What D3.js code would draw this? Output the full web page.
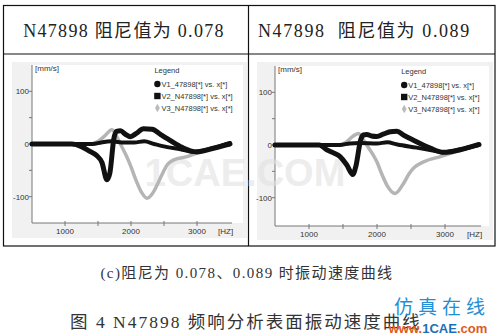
<!DOCTYPE html>
<html>
<head>
<meta charset="utf-8">
<script src="https://cdn.jsdelivr.net/npm/d3@7"></script>
<style>
  html, body { margin: 0; padding: 0; background: #fff; }
  svg { display: block; }
  .serif { font-family: "Liberation Serif", "DejaVu Serif", "Noto Sans CJK SC", serif; }
  .tick-label { font-family: "Liberation Sans", Arial, sans-serif; font-size: 8px; fill: #333; }
  .legend-text { font-family: "Liberation Sans", Arial, sans-serif; font-size: 7.5px; fill: #333; }
</style>
</head>
<body>
<svg id="chart" width="500" height="336"></svg>
<script>
// panel titles
const titles = ['N47898 阻尼值为 0.078', 'N47898  阻尼值为 0.089'];
const caption = '(c)阻尼为 0.078、0.089 时振动速度曲线';
const figTitle = '图 4 N47898 频响分析表面振动速度曲线';

const legendNames = ['V1_47898[*] vs. x[*]', 'V2_N47898[*] vs. x[*]', 'V3_N47898[*] vs. x[*]'];
const xTicks = [1000, 2000, 3000];
const xMinorTicks = [1000, 1500, 2000, 2500, 3000];
const yTicks = [100, 0, -100];
const yMinorTicks = [100, 50, 0, -50, -100];

// [Hz, mm/s], damping 0.078
const v1_078 = [[500,0],[1000,0],[1420,0],[1550,3],[1700,5],[1900,3],[2050,3],[2200,5],[2350,0],[2550,-6],[2750,-10],[2950,-15],[3100,-12],[3300,-6],[3500,2]];
const v2_078 = [[500,0],[1100,0],[1250,-5],[1350,-12],[1480,-22],[1560,-35],[1635,-68],[1680,-55],[1740,10],[1780,24],[1840,25],[1920,18],[1990,14],[2080,20],[2190,29],[2320,28],[2450,18],[2550,10],[2750,-5],[2900,-13],[3000,-15],[3250,-8],[3500,0]];
const v3_078 = [[500,0],[1400,0],[1500,5],[1600,15],[1710,27],[1780,15],[1840,0],[1920,-20],[1990,-40],[2080,-70],[2160,-92],[2243,-103],[2320,-95],[2395,-78],[2470,-58],[2547,-40],[2650,-30],[2850,-24],[3050,-15],[3250,-8],[3500,0]];

// damping 0.089
const v1_089 = [[500,0],[1450,0],[1600,3],[1750,4],[2000,3],[2150,5],[2300,1],[2580,-5],[2800,-10],[2980,-14],[3200,-9],[3500,0]];
const v2_089 = [[500,0],[1150,0],[1261,-9],[1360,-15],[1457,-22],[1556,-38],[1644,-56],[1690,-40],[1760,10],[1800,19],[1850,20],[1920,17],[1998,16],[2100,21],[2194,25],[2292,26],[2400,18],[2537,9],[2783,-6],[2979,-14],[3224,-9],[3500,1]];
const v3_089 = [[500,0],[1457,0],[1550,6],[1640,16],[1727,22],[1790,12],[1850,0],[1920,-14],[1998,-32],[2070,-55],[2145,-76],[2267,-92],[2390,-73],[2470,-55],[2537,-44],[2684,-32],[2930,-22],[3175,-12],[3500,0]];

const svg = d3.select('#chart');

// table frame
const frame = svg.append('g').attr('stroke', '#111').attr('stroke-width', 1.2).attr('fill', 'none');
frame.append('rect').attr('x', 3.5).attr('y', 5.5).attr('width', 491.5).attr('height', 240.5);
frame.append('line').attr('x1', 3.5).attr('x2', 495).attr('y1', 54).attr('y2', 54);
frame.append('line').attr('x1', 248.5).attr('x2', 248.5).attr('y1', 5.5).attr('y2', 246);

svg.append('text').attr('class', 'serif')
  .attr('x', 124).attr('y', 37).attr('text-anchor', 'middle')
  .attr('font-size', 18).attr('letter-spacing', 1.3).attr('fill', '#222').text(titles[0]);
svg.append('text').attr('class', 'serif')
  .attr('x', 258).attr('y', 37).attr('xml:space', 'preserve')
  .attr('font-size', 18).attr('letter-spacing', 1.6).attr('fill', '#222').text(titles[1]);

const panels = [
  { bg: [12, 62, 235, 176], x0: 32, x1: 230, y0: 223, y1: 65, base: 223, series: [v1_078, v2_078, v3_078] },
  { bg: [257, 62, 236, 178], x0: 275, x1: 479, y0: 224, y1: 66, base: 226, series: [v1_089, v2_089, v3_089] }
];

const styles = [
  { color: '#111', width: 4 },
  { color: '#111', width: 5 },
  { color: '#b5b5b5', width: 3.5 }
];

// faint watermark across the plots, behind the curves
const wm = svg.append('g');

panels.forEach(p => {
  const g = svg.append('g');
  g.append('rect').attr('x', p.bg[0]).attr('y', p.bg[1]).attr('width', p.bg[2]).attr('height', p.bg[3]).attr('fill', '#f1f1f1');
  g.append('rect').attr('x', p.x0).attr('y', p.y1).attr('width', p.bg[0] + p.bg[2] - 4 - p.x0).attr('height', p.base - p.y1).attr('fill', '#fff');

  const x = d3.scaleLinear().domain([500, 3500]).range([p.x0, p.x1]);
  const y = d3.scaleLinear().domain([-150, 150]).range([p.y0, p.y1]);

  // y axis
  g.append('line').attr('x1', p.x0).attr('x2', p.x0).attr('y1', p.y1).attr('y2', p.base).attr('stroke', '#777');
  g.selectAll('.yt').data(yMinorTicks).join('line')
    .attr('x1', p.x0 - 3).attr('x2', p.x0).attr('y1', d => y(d)).attr('y2', d => y(d)).attr('stroke', '#777');
  g.selectAll('.yl').data(yTicks).join('text').attr('class', 'tick-label')
    .attr('x', p.x0 - 3).attr('y', d => y(d) + 3).attr('text-anchor', 'end').text(d => d);
  g.append('text').attr('class', 'tick-label').attr('x', p.x0 + 3).attr('y', p.y1 + 6).attr('font-size', 7).text('[mm/s]');

  // x axis
  g.append('line').attr('x1', p.x0).attr('x2', p.x1 + 2).attr('y1', p.base).attr('y2', p.base).attr('stroke', '#777');
  g.selectAll('.xt').data(xMinorTicks).join('line')
    .attr('x1', d => x(d)).attr('x2', d => x(d)).attr('y1', p.base - 2).attr('y2', p.base + 3).attr('stroke', '#777');
  g.selectAll('.xl').data(xTicks).join('text').attr('class', 'tick-label')
    .attr('x', d => x(d)).attr('y', p.base + 11).attr('text-anchor', 'middle').text(d => d);
  g.append('text').attr('class', 'tick-label').attr('x', p.x1 - 12).attr('y', p.base + 11).text('[HZ]');

  p.g = g; p.x = x; p.y = y;
});

wm.raise();
wm.append('text').attr('x', 245).attr('y', 186).attr('text-anchor', 'middle')
  .attr('font-family', 'Liberation Sans, Arial, sans-serif').attr('font-weight', 'bold').attr('font-size', 38)
  .attr('fill', '#e2e2e2').attr('opacity', 0.6).text('1CAE.COM');

panels.forEach(p => {
  const g = svg.append('g');
  const x = p.x, y = p.y;
  const line = d3.line().x(d => x(d[0])).y(d => y(d[1])).curve(d3.curveMonotoneX);
  [2, 0, 1].forEach(i => {
    g.append('path').datum(p.series[i])
      .attr('fill', 'none').attr('stroke', styles[i].color).attr('stroke-width', styles[i].width)
      .attr('stroke-linejoin', 'round').attr('stroke-linecap', 'round')
      .attr('d', line);
  });

  // legend
  const lx = x(2400), ly = p.y1 + 8;
  g.append('text').attr('class', 'legend-text').attr('x', lx - 3).attr('y', ly).text('Legend');
  legendNames.forEach((name, i) => {
    const cy = ly + 11 + i * 12;
    if (i === 0) g.append('circle').attr('cx', lx).attr('cy', cy).attr('r', 3.2).attr('fill', '#111');
    if (i === 1) g.append('rect').attr('x', lx - 3.2).attr('y', cy - 3.2).attr('width', 6.4).attr('height', 6.4).attr('fill', '#111');
    if (i === 2) g.append('path').attr('d', d3.symbol(d3.symbolDiamond, 20)()).attr('transform', `translate(${lx},${cy})`).attr('fill', '#bbb');
    g.append('text').attr('class', 'legend-text').attr('x', lx + 4).attr('y', cy + 2.8).text(name);
  });
});

svg.append('text').attr('class', 'serif').attr('x', 247).attr('y', 278).attr('text-anchor', 'middle')
  .attr('font-size', 15).attr('letter-spacing', 1.4).attr('fill', '#333').text(caption);
svg.append('text').attr('class', 'serif').attr('x', 246).attr('y', 328).attr('text-anchor', 'middle')
  .attr('font-size', 17.5).attr('letter-spacing', 2).attr('fill', '#333').text(figTitle);

// site watermark bottom right
svg.append('text').attr('x', 442).attr('y', 314).attr('text-anchor', 'middle')
  .attr('font-family', 'Noto Sans CJK SC, sans-serif').attr('font-size', 19).attr('fill', '#1f8fd6')
  .attr('letter-spacing', 5).text('仿真在线');
const site = svg.append('text').attr('x', 438).attr('y', 333).attr('text-anchor', 'middle')
  .attr('font-family', 'Liberation Sans, Arial, sans-serif').attr('font-weight', 'bold').attr('font-size', 13);
site.append('tspan').attr('fill', '#e05a1c').text('www.');
site.append('tspan').attr('fill', '#1d6fb8').text('1CAE');
site.append('tspan').attr('fill', '#e05a1c').text('.com');
</script>
</body>
</html>
